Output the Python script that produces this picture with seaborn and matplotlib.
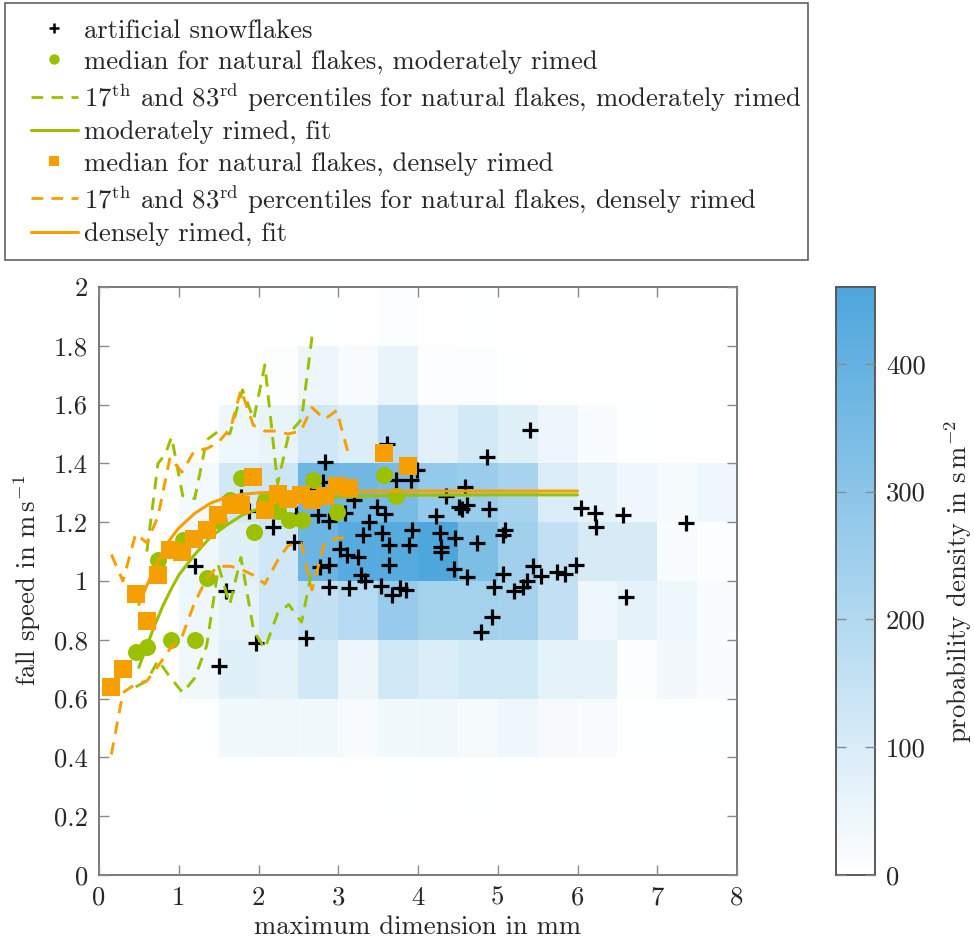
import numpy as np
import pandas as pd
import matplotlib
matplotlib.use("Agg")
import matplotlib.pyplot as plt
import seaborn as sns
from matplotlib.colors import LinearSegmentedColormap
from matplotlib.lines import Line2D
from matplotlib.patches import Rectangle
from matplotlib.ticker import FuncFormatter

# ---------------- data ----------------
# 2D probability density (rows: fall speed bins 0-0.2 ... 1.8-2.0, cols: size bins 0-0.5 ... 7.5-8)
x_edges = [0, 0.5, 1, 1.5, 2, 2.5, 3, 3.5, 4, 4.5, 5, 5.5, 6, 6.5, 7, 7.5, 8]
y_edges = [0, 0.2, 0.4, 0.6, 0.8, 1.0, 1.2, 1.4, 1.6, 1.8, 2.0]
density_rows = [
    [0, 0, 0, 0, 0, 0, 0, 0, 0, 0, 0, 0, 0, 0, 0, 0],
    [0, 0, 0, 0, 0, 1, 4, 3, 4, 3, 1, 0, 0, 0, 0, 0],
    [0, 0, 6, 34, 38, 34, 20, 34, 38, 28, 44, 25, 22, 2, 3, 3],
    [0, 0, 38, 80, 65, 120, 50, 120, 95, 116, 116, 70, 65, 10, 35, 18],
    [0, 0, 44, 65, 124, 155, 190, 266, 235, 235, 230, 160, 44, 65, 44, 15],
    [0, 0, 40, 80, 124, 380, 434, 440, 455, 336, 245, 160, 103, 103, 15, 10],
    [0, 0, 30, 120, 130, 377, 370, 350, 280, 260, 225, 100, 65, 44, 28, 44],
    [0, 0, 0, 44, 60, 124, 95, 184, 75, 116, 80, 45, 18, 3, 0, 0],
    [0, 0, 0, 5, 8, 45, 20, 60, 12, 10, 6, 4, 0, 0, 0, 0],
    [0, 0, 0, 0, 0, 3, 5, 12, 5, 3, 0, 0, 0, 0, 0, 0],
]

art_x = [1.50, 1.59, 1.97, 2.60, 2.89, 3.13, 3.33, 3.54, 3.68, 3.78, 3.85, 3.61, 2.83, 3.99,
         3.91, 3.73, 2.81, 2.65, 1.78, 3.20, 1.88, 2.47, 2.75, 2.88, 3.08, 3.49, 3.59, 2.18,
         3.39, 3.31, 3.55, 3.93, 3.64, 3.89, 2.45, 3.02, 3.11, 3.25, 3.64, 2.77, 2.88, 1.21,
         3.28, 5.41, 4.87, 4.59, 4.35, 4.51, 4.55, 4.61, 4.89, 4.23, 6.04, 6.22, 6.57, 6.23,
         7.36, 4.27, 4.46, 4.29, 4.29, 4.74, 5.09, 5.07, 4.45, 4.61, 5.07, 5.44, 5.54, 5.74,
         5.84, 5.98, 5.37, 4.95, 5.20, 5.32, 4.93, 4.79, 6.61]
art_y = [0.71, 0.967, 0.79, 0.807, 0.98, 0.975, 1.00, 0.984, 0.952, 0.976, 0.969, 1.467, 1.405, 1.376,
         1.344, 1.342, 1.337, 1.31, 1.286, 1.277, 1.237, 1.229, 1.223, 1.204, 1.231, 1.252, 1.227, 1.184,
         1.20, 1.157, 1.164, 1.174, 1.123, 1.121, 1.133, 1.11, 1.087, 1.082, 1.053, 1.048, 1.053, 1.051,
         1.02, 1.515, 1.422, 1.32, 1.29, 1.252, 1.246, 1.257, 1.246, 1.22, 1.248, 1.232, 1.225, 1.184,
         1.197, 1.163, 1.147, 1.116, 1.10, 1.13, 1.175, 1.155, 1.042, 1.014, 1.023, 1.05, 1.018, 1.03,
         1.025, 1.056, 1.0, 0.98, 0.966, 0.98, 0.879, 0.827, 0.944]

mod_x = [0.46, 0.60, 0.74, 0.90, 1.05, 1.20, 1.35, 1.50, 1.64, 1.78, 1.94, 2.08, 2.24, 2.38,
         2.54, 2.68, 2.98, 3.57, 3.73]
mod_med = [0.757, 0.774, 1.07, 0.80, 1.14, 0.80, 1.01, 1.205, 1.274, 1.35, 1.167, 1.274, 1.238,
           1.208, 1.206, 1.342, 1.235, 1.361, 1.289]
mod_pct_x = [0.46, 0.60, 0.74, 0.90, 1.05, 1.20, 1.35, 1.50, 1.64, 1.78, 1.94, 2.08, 2.24, 2.38, 2.54, 2.68]
mod_p17 = [0.64, 0.66, 0.73, 0.67, 0.62, 0.67, 0.78, 1.05, 0.92, 1.08, 0.83, 0.77, 0.89, 0.92, 0.86, 1.05]
mod_p83_x = [0.60, 0.74, 0.83, 0.91, 1.05, 1.20, 1.35, 1.50, 1.64, 1.80, 1.94, 2.08, 2.24, 2.38, 2.54, 2.68]
mod_p83 = [1.10, 1.40, 1.43, 1.49, 1.29, 1.28, 1.48, 1.51, 1.50, 1.65, 1.55, 1.735, 1.33, 1.50, 1.55, 1.85]
mod_fit_x = [0.5, 0.6, 0.7, 0.8, 0.9, 1.0, 1.2, 1.4, 1.6, 1.8, 2.0, 2.3, 2.6, 3.0, 3.5, 4.0, 5.0, 6.0]
mod_fit = [0.706, 0.78, 0.85, 0.915, 0.97, 1.02, 1.09, 1.15, 1.19, 1.225, 1.245, 1.265, 1.278,
           1.286, 1.29, 1.292, 1.293, 1.293]

den_x = [0.155, 0.30, 0.46, 0.60, 0.74, 0.89, 1.04, 1.19, 1.35, 1.49, 1.65, 1.78, 1.935, 2.08,
         2.24, 2.37, 2.53, 2.67, 2.83, 2.98, 3.13, 3.57, 3.87]
den_med = [0.638, 0.70, 0.956, 0.864, 1.02, 1.104, 1.10, 1.142, 1.172, 1.223, 1.257, 1.26, 1.354,
           1.24, 1.297, 1.279, 1.291, 1.277, 1.288, 1.322, 1.316, 1.436, 1.39]
den_pct_x = [0.155, 0.30, 0.46, 0.60, 0.74, 0.89, 1.04, 1.19, 1.35, 1.49, 1.65, 1.78, 1.935, 2.08,
             2.24, 2.37, 2.53, 2.67, 2.83, 2.98, 3.13]
den_p17 = [0.41, 0.62, 0.65, 0.66, 0.71, 0.77, 0.81, 0.92, 1.01, 1.05, 1.05, 1.04, 1.02, 0.99,
           1.07, 1.12, 1.13, 0.97, 1.13, 1.145, 1.15]
den_p83 = [1.09, 1.00, 1.16, 1.13, 1.22, 1.42, 1.37, 1.44, 1.45, 1.47, 1.52, 1.65, 1.53, 1.51,
           1.51, 1.50, 1.51, 1.59, 1.55, 1.58, 1.43]
den_fit_x = [0.5, 0.6, 0.7, 0.8, 0.9, 1.0, 1.2, 1.4, 1.6, 1.8, 2.0, 2.5, 3.0, 4.0, 5.0, 6.0]
den_fit = [0.92, 0.985, 1.045, 1.10, 1.145, 1.18, 1.23, 1.265, 1.285, 1.295, 1.30, 1.304, 1.305,
           1.306, 1.306, 1.306]

x_ticks = [0, 1, 2, 3, 4, 5, 6, 7, 8]
y_ticks = [0, 0.2, 0.4, 0.6, 0.8, 1.0, 1.2, 1.4, 1.6, 1.8, 2.0]
cbar_ticks = [0, 100, 200, 300, 400]

labels = [
    "artificial snowflakes",
    "median for natural flakes, moderately rimed",
    r"17$^{\mathrm{th}}$ and 83$^{\mathrm{rd}}$ percentiles for natural flakes, moderately rimed",
    "moderately rimed, fit",
    "median for natural flakes, densely rimed",
    r"17$^{\mathrm{th}}$ and 83$^{\mathrm{rd}}$ percentiles for natural flakes, densely rimed",
    "densely rimed, fit",
]

# ---------------- style ----------------
GREEN = "#9bc000"
ORANGE = "#f5a000"
BLUE = "#4da6dc"
FRAME = "#555555"
TICK = "#8a8a8a"
FS = 19.2

sns.set_theme(style="white")
plt.rcParams.update({
    "font.family": ["cmr10"],
    "mathtext.fontset": "cm",
    "axes.formatter.use_mathtext": True,
    "axes.unicode_minus": False,
    "font.size": FS,
    "axes.labelsize": FS,
    "xtick.labelsize": FS,
    "ytick.labelsize": FS,
    "legend.fontsize": FS,
})

W, H = 974, 942
fig = plt.figure(figsize=(W / 100, H / 100), dpi=100)
ax = fig.add_axes([99 / W, 67 / H, 638 / W, 588 / H])
cax = fig.add_axes([836 / W, 67 / H, 39 / W, 588 / H])

# grid table for the heat map
xc = [(x_edges[i] + x_edges[i + 1]) / 2 for i in range(len(x_edges) - 1)]
yc = [(y_edges[j] + y_edges[j + 1]) / 2 for j in range(len(y_edges) - 1)]
grid = pd.DataFrame(
    [(xc[i], yc[j], density_rows[j][i]) for j in range(len(yc)) for i in range(len(xc))],
    columns=["x", "y", "density"],
)
cmap = LinearSegmentedColormap.from_list("wb", ["#ffffff", BLUE])

sns.histplot(data=grid, x="x", y="y", weights="density", bins=[x_edges, y_edges],
             cmap=cmap, vmin=0, vmax=460, thresh=None, cbar=True, cbar_ax=cax, ax=ax)

sns.scatterplot(x=art_x, y=art_y, marker="+", color="black", s=130, linewidth=2.3,
                ax=ax, zorder=3, legend=False)
sns.scatterplot(x=mod_x, y=mod_med, marker="o", color=GREEN, s=150, linewidth=0,
                ax=ax, zorder=4, legend=False)
dash = (0, (4.2, 3.0))
sns.lineplot(x=mod_pct_x, y=mod_p17, estimator=None, sort=False, color=GREEN, lw=2.1,
             linestyle=dash, ax=ax, zorder=4)
sns.lineplot(x=mod_p83_x, y=mod_p83, estimator=None, sort=False, color=GREEN, lw=2.1,
             linestyle=dash, ax=ax, zorder=4)
sns.lineplot(x=mod_fit_x, y=mod_fit, estimator=None, sort=False, color=GREEN, lw=2.2,
             ax=ax, zorder=4)
sns.scatterplot(x=den_x, y=den_med, marker="s", color=ORANGE, s=150, linewidth=0,
                ax=ax, zorder=5, legend=False)
sns.lineplot(x=den_pct_x, y=den_p17, estimator=None, sort=False, color=ORANGE, lw=2.1,
             linestyle=dash, ax=ax, zorder=5)
sns.lineplot(x=den_pct_x, y=den_p83, estimator=None, sort=False, color=ORANGE, lw=2.1,
             linestyle=dash, ax=ax, zorder=5)
sns.lineplot(x=den_fit_x, y=den_fit, estimator=None, sort=False, color=ORANGE, lw=2.2,
             ax=ax, zorder=5)

ax.set_axisbelow(False)
ax.set_xlim(0, 8)
ax.set_ylim(0, 2)
ax.set_xticks(x_ticks)
ax.set_yticks(y_ticks)
fmt = FuncFormatter(lambda v, p: f"{v:g}")
ax.xaxis.set_major_formatter(fmt)
ax.yaxis.set_major_formatter(fmt)
ax.set_xlabel("maximum dimension in mm", labelpad=4)
ax.set_ylabel(r"fall speed in m$\,$s$^{-1}$", labelpad=8)
ax.tick_params(direction="in", length=7, width=1, color=TICK, top=True, right=True,
               bottom=True, left=True, pad=8)
for s in ax.spines.values():
    s.set_color(FRAME)
    s.set_linewidth(1.1)
    s.set_visible(True)

# colorbar
cax.set_axisbelow(False)
cax.set_yticks(cbar_ticks)
cax.yaxis.set_major_formatter(fmt)
cax.tick_params(direction="in", length=7, width=1, color=TICK, left=True, right=True,
                labelleft=False, labelright=True, pad=8)
cax.yaxis.set_label_position("right")
cax.set_ylabel(r"probability density in s$\,$m$^{-2}$", labelpad=12)
for s in cax.spines.values():
    s.set_color(FRAME)
    s.set_linewidth(1.1)
    s.set_visible(True)

# legend (frame drawn separately)
handles = [
    Line2D([], [], ls="none", marker="+", color="black", markersize=7, mew=1.8),
    Line2D([], [], ls="none", marker="o", color=GREEN, markersize=7.5, mew=0),
    Line2D([], [], color=GREEN, lw=2, linestyle=dash),
    Line2D([], [], color=GREEN, lw=2.2),
    Line2D([], [], ls="none", marker="s", color=ORANGE, markersize=7.5, mew=0),
    Line2D([], [], color=ORANGE, lw=2, linestyle=dash),
    Line2D([], [], color=ORANGE, lw=2.2),
]
leg = fig.legend(handles, labels, loc="upper left", bbox_to_anchor=(31 / W, 1 - 19 / H),
                 frameon=False, borderpad=0, labelspacing=0.275, handlelength=1.75,
                 handletextpad=0.25, borderaxespad=0)
fig.add_artist(Rectangle((5 / W, 1 - 260 / H), 803 / W, 257 / H, transform=fig.transFigure,
                         fill=False, edgecolor=FRAME, lw=1.1))

fig.savefig("out.png", dpi=100)
